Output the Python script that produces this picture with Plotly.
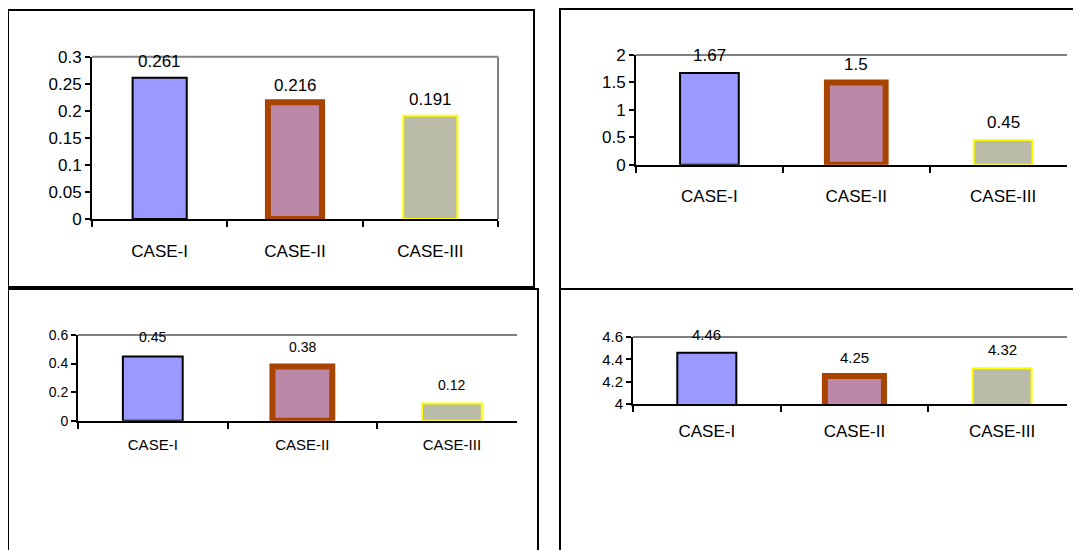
import plotly.graph_objects as go

# ---------------- data ----------------
categories = ["CASE-I", "CASE-II", "CASE-III"]

panel1_values = [0.261, 0.216, 0.191]
panel2_values = [1.67, 1.5, 0.45]
panel3_values = [0.45, 0.38, 0.12]
panel4_values = [4.46, 4.25, 4.32]

panel1_labels = ["0.261", "0.216", "0.191"]
panel2_labels = ["1.67", "1.5", "0.45"]
panel3_labels = ["0.45", "0.38", "0.12"]
panel4_labels = ["4.46", "4.25", "4.32"]

# ---------------- styles ----------------
fill_colors = ["#9999FF", "#BC88A8", "#BBBBAA"]
line_colors = ["#000000", "#A84300", "#FFFF00"]
line_widths = [2, 6, 2]

W, H = 1081, 550
FONT = "Arial, 'Liberation Sans', sans-serif"
OFF = 8  # page body margin


def fx(px):
    return (px - OFF) / W


def fy(py):
    return 1 - (py - OFF) / H


panels = [
    dict(values=panel1_values, labels=panel1_labels,
         xd=(92, 498), yd=(219, 56.7), xrange=[-0.5, 2.5],
         yrange=[0, 0.3], dtick=0.05, tfont=17, cfont=17, standoff=16,
         lfont=17, yshift=5, right_border=True),
    dict(values=panel2_values, labels=panel2_labels,
         xd=(636, 1067), yd=(164.7, 55), xrange=[-0.5, 2.435],
         yrange=[0, 2], dtick=0.5, tfont=17, cfont=17, standoff=15,
         lfont=17, yshift=6, right_border=False),
    dict(values=panel3_values, labels=panel3_labels,
         xd=(78, 517), yd=(420.7, 335), xrange=[-0.5, 2.435],
         yrange=[0, 0.6], dtick=0.2, tfont=14, cfont=15, standoff=9,
         lfont=14, yshift=9, right_border=False),
    dict(values=panel4_values, labels=panel4_labels,
         xd=(633, 1067), yd=(404, 337), xrange=[-0.5, 2.44],
         yrange=[4, 4.6], dtick=0.2, tfont=15, cfont=17, standoff=11,
         lfont=15, yshift=8, right_border=False),
]

fig = go.Figure()
layout = dict(
    width=W, height=H,
    margin=dict(l=0, r=0, t=0, b=0, pad=0, autoexpand=False),
    paper_bgcolor="white", plot_bgcolor="white",
    showlegend=False,
    font=dict(family=FONT, color="#000000"),
)
shapes = []
annotations = []

for i, p in enumerate(panels, start=1):
    xa = "x" if i == 1 else f"x{i}"
    ya = "y" if i == 1 else f"y{i}"
    fig.add_trace(go.Bar(
        x=categories, y=p["values"], xaxis=xa, yaxis=ya,
        width=0.4,
        marker=dict(color=fill_colors,
                    line=dict(color=line_colors, width=line_widths)),
        hoverinfo="skip",
    ))
    xkey = "xaxis" if i == 1 else f"xaxis{i}"
    ykey = "yaxis" if i == 1 else f"yaxis{i}"
    layout[xkey] = dict(
        domain=[fx(p["xd"][0]), fx(p["xd"][1])],
        anchor=ya, type="category", range=p["xrange"], automargin=False,
        showline=True, linecolor="#000000", linewidth=2,
        ticks="outside", tickson="boundaries", ticklen=6, tickwidth=2,
        tickcolor="#000000", showgrid=False, zeroline=False,
        tickfont=dict(size=p["cfont"], family=FONT, color="#000000"),
        ticklabelstandoff=p["standoff"], fixedrange=True,
    )
    layout[ykey] = dict(
        domain=[fy(p["yd"][0]), fy(p["yd"][1])],
        anchor=xa, range=p["yrange"], dtick=p["dtick"], tick0=p["yrange"][0],
        automargin=False,
        showline=True, linecolor="#000000", linewidth=2,
        ticks="outside", ticklen=5, tickwidth=2, tickcolor="#000000",
        showgrid=False, zeroline=False,
        tickfont=dict(size=p["tfont"], family=FONT, color="#000000"),
        fixedrange=True,
    )
    # gray top border of plot area
    shapes.append(dict(type="line", xref=f"{xa} domain", yref=f"{ya} domain",
                       x0=0, x1=1, y0=1, y1=1, layer="below",
                       line=dict(color="#808080", width=2)))
    if p["right_border"]:
        shapes.append(dict(type="line", xref=f"{xa} domain", yref=f"{ya} domain",
                           x0=1, x1=1, y0=0, y1=1, layer="below",
                           line=dict(color="#808080", width=2)))
    for c, v, t in zip(categories, p["values"], p["labels"]):
        annotations.append(dict(
            x=c, y=v, xref=xa, yref=ya, text=t, showarrow=False,
            yanchor="bottom", yshift=p["yshift"],
            font=dict(size=p["lfont"], family=FONT, color="#000000"),
        ))

# outer chart frames (page pixel coordinates)
frames = [
    (8, 10, 534, 287),
    (560, 9, 1120, 289),
    (8, 289, 538, 600),
    (560, 289, 1120, 600),
]
for x0, y0, x1, y1 in frames:
    shapes.append(dict(type="rect", xref="paper", yref="paper",
                       x0=fx(x0), x1=fx(x1), y0=fy(y1), y1=fy(y0),
                       line=dict(color="#000000", width=2),
                       fillcolor="rgba(0,0,0,0)", layer="above"))

layout["shapes"] = shapes
layout["annotations"] = annotations
fig.update_layout(**layout)

fig.write_html("out.html")
